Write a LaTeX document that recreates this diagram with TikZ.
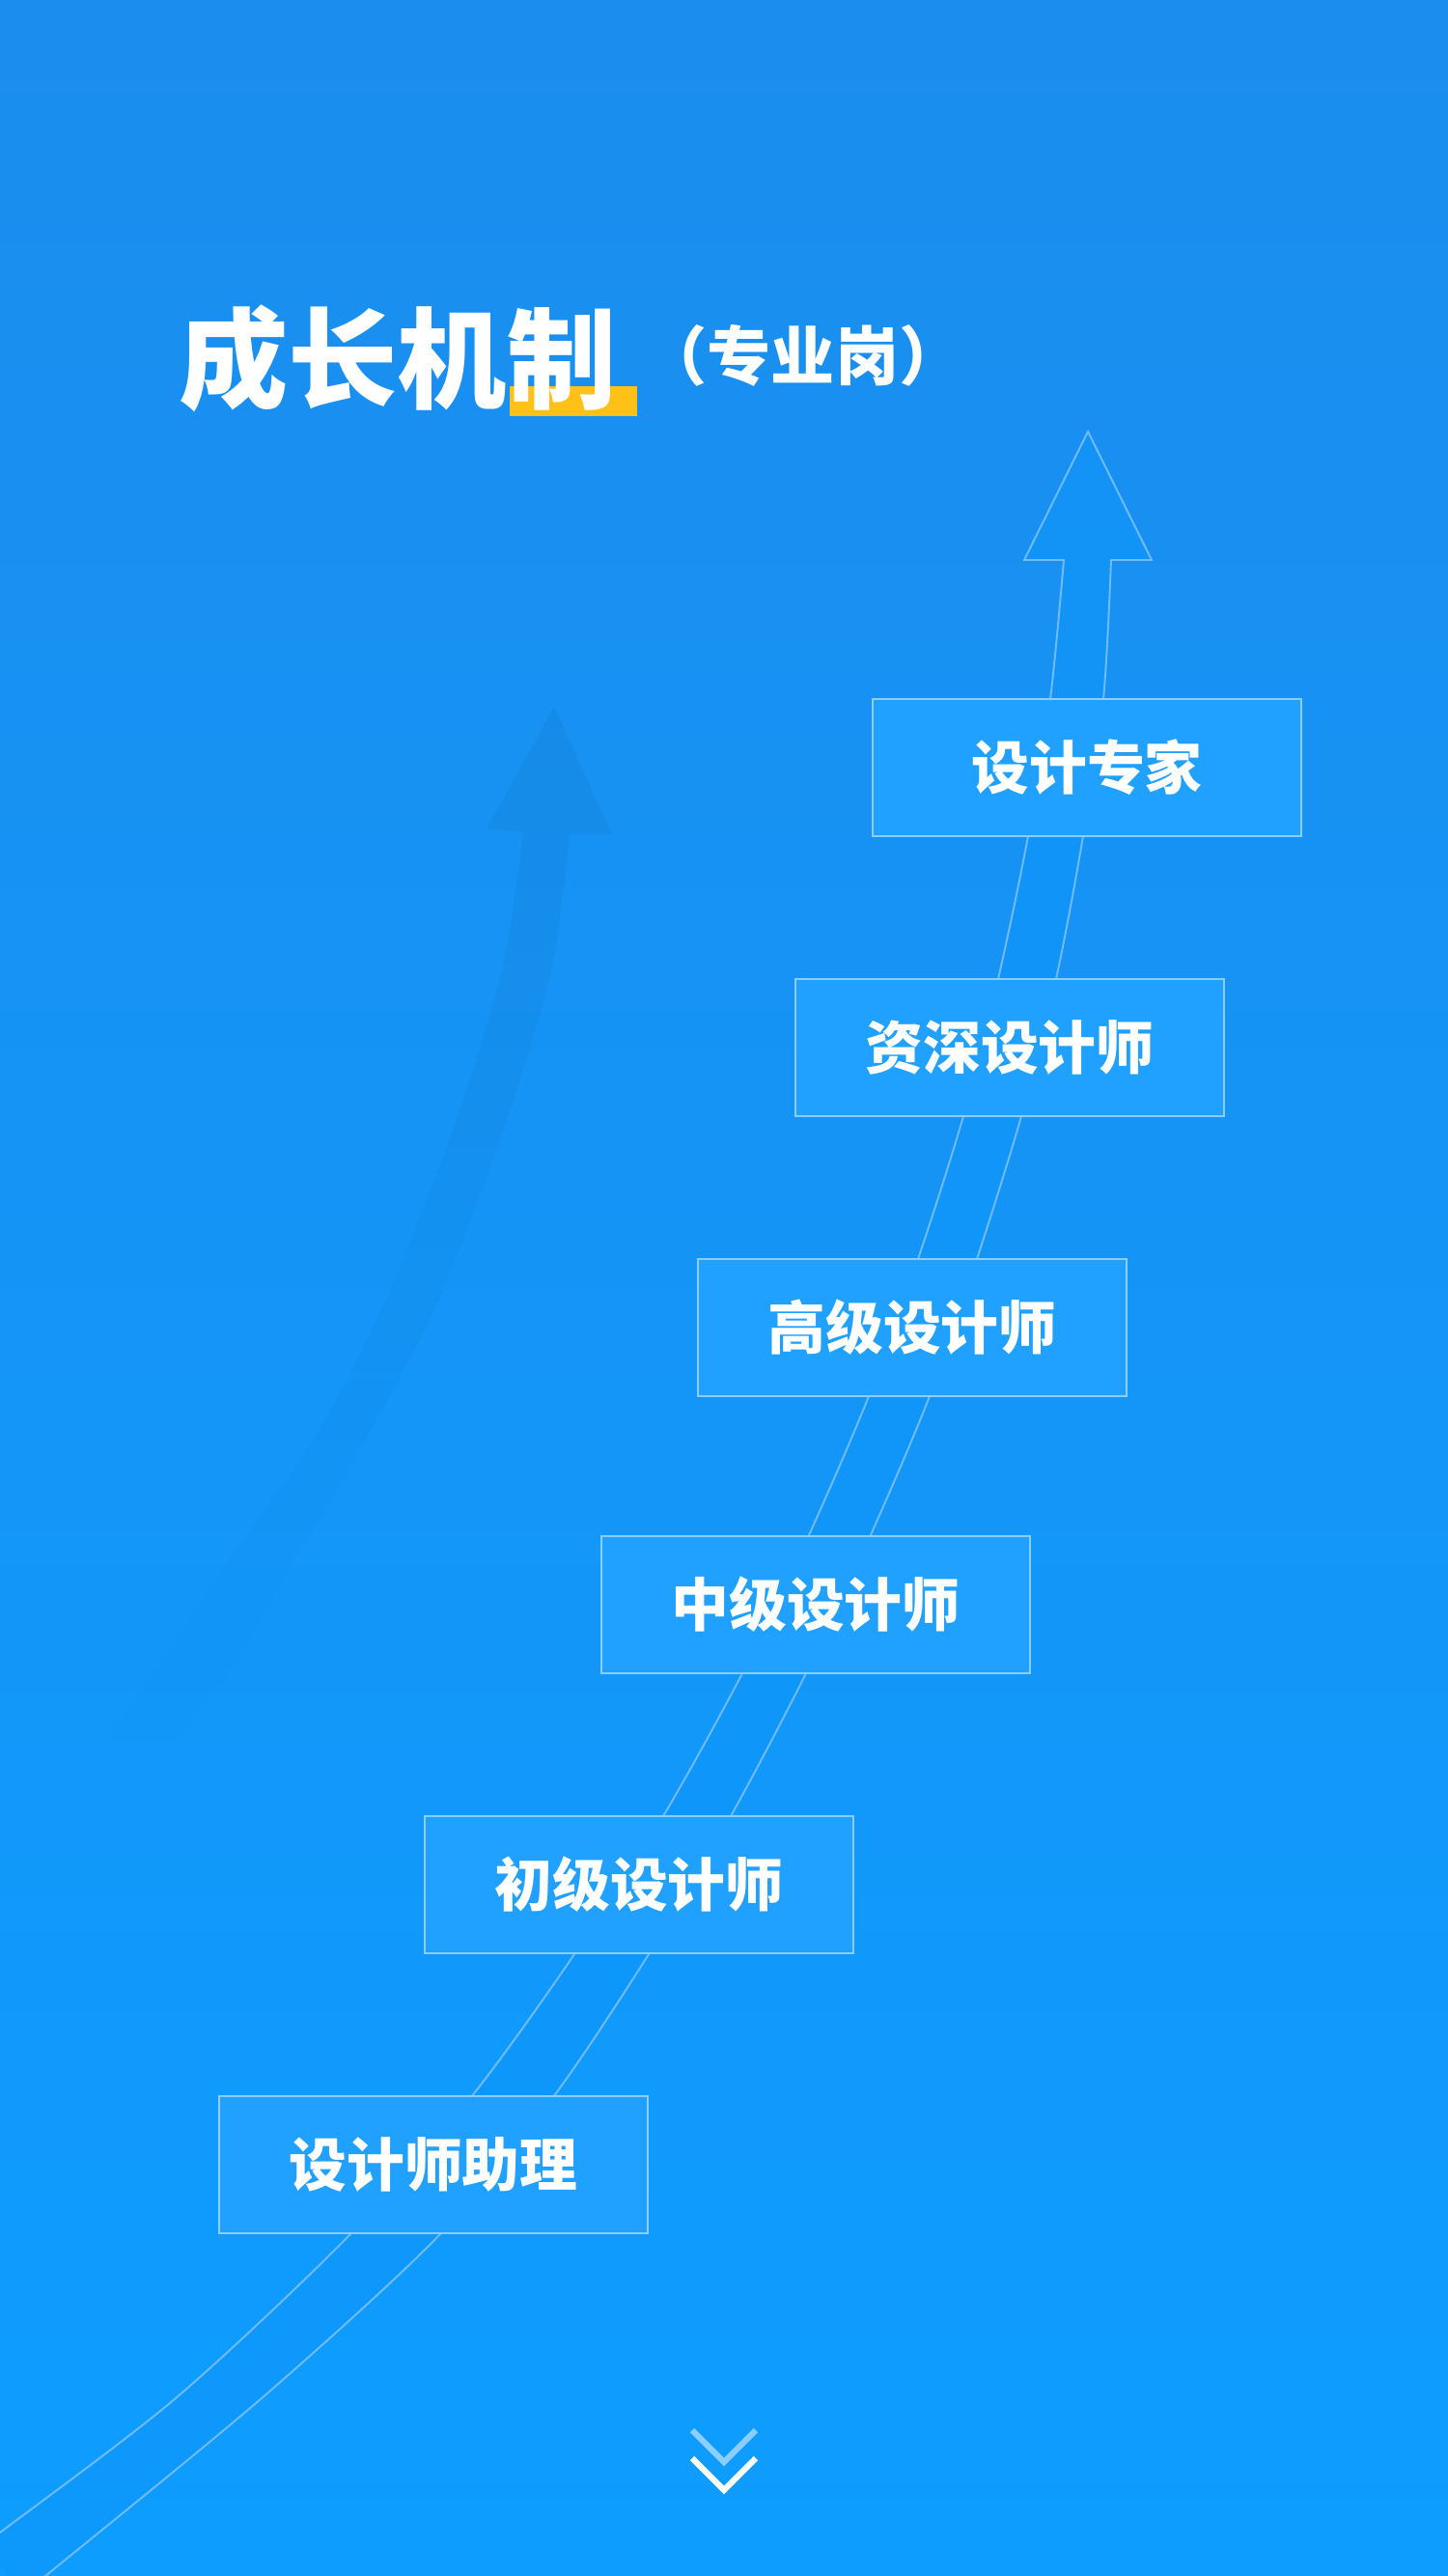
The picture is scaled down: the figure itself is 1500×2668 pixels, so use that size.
\documentclass[tikz,border=0pt]{standalone}
\usepackage{fontspec}
\setmainfont{Noto Sans CJK SC}
\usetikzlibrary{fadings}
\definecolor{bgtop}{RGB}{27,141,238}
\definecolor{bgbot}{RGB}{13,157,255}
\definecolor{boxfill}{RGB}{32,161,255}
\definecolor{boxline}{RGB}{140,204,255}
\definecolor{arrline}{RGB}{112,188,250}
\definecolor{arrfill}{RGB}{14,150,250}
\definecolor{accent}{RGB}{255,193,23}
\definecolor{chevlight}{RGB}{138,207,255}
\tikzfading[name=fadedown, top color=transparent!0, middle color=transparent!35, bottom color=transparent!100]
\tikzset{
  stagebox/.style={draw=boxline, line width=0.6pt, fill=boxfill, minimum width=4.43cm, minimum height=1.42cm, inner sep=0pt, text=white, font=\fontsize{17pt}{20pt}\selectfont\bfseries},
  outline/.style={draw=arrline, line width=0.55pt, fill=arrfill, fill opacity=0.55},
  chev/.style={line width=1.75pt, line cap=butt, line join=miter}
}
\begin{document}
\begin{tikzpicture}[x=0.01cm, y=-0.01cm]
\useasboundingbox (0,0) rectangle (1500,2668);
\shade[top color=bgtop, bottom color=bgbot] (0,0) rectangle (1500,2668);
\begin{scope}
\clip (0,0) rectangle (1500,2668);
% faint background arrow
\fill[black, fill opacity=0.045, path fading=fadedown]
  plot[smooth] coordinates {(95,1815) (159,1732) (226,1631) (325,1490) (398,1350) (473,1159) (521,1000) (542,861)}
  -- (504,858) -- (574,732) -- (634,864)
  -- plot[smooth] coordinates {(590,863) (572,1000) (525,1159) (453,1350) (379,1490) (295,1631) (233,1736) (150,1850)}
  -- cycle;
% outlined growth arrow
\path[outline]
  plot[smooth] coordinates {(-20,2638) (0,2623) (183,2483) (362,2315) (488,2172) (595,2024) (687,1881) (769,1733) (837,1592) (900,1446) (951,1304) (998,1156) (1034,1014) (1065,866) (1088,724) (1102,580)}
  -- (1061,580) -- (1127,447) -- (1193,580) -- (1151,580)
  -- plot[smooth] coordinates {(1151,580) (1143,724) (1122,866) (1094,1014) (1058,1156) (1012,1304) (963,1446) (901,1592) (835,1733) (757,1881) (672,2024) (573,2172) (455,2315) (272,2483) (47,2668) (25,2686)};
\end{scope}
% title
\fill[accent] (528,400) rectangle (660,431);
\node[inner sep=0pt, text=white, font=\fontsize{32.2pt}{36pt}\selectfont\bfseries] (title) at (412,371) {成长机制};
\node[inner sep=0pt, text=white, font=\fontsize{18.8pt}{22pt}\selectfont\bfseries] (subtitle) at (832,368) {（专业岗）};
% stages
\node[stagebox] (s6) at (1126,795) {设计专家};
\node[stagebox] (s5) at (1046,1085) {资深设计师};
\node[stagebox] (s4) at (945,1375) {高级设计师};
\node[stagebox] (s3) at (845,1662) {中级设计师};
\node[stagebox] (s2) at (662,1952) {初级设计师};
\node[stagebox] (s1) at (449,2242) {设计师助理};
% scroll chevrons
\coordinate (c1a) at (717,2517); \coordinate (c1b) at (750,2550); \coordinate (c1c) at (783,2517);
\coordinate (c2a) at (717,2546); \coordinate (c2b) at (750,2579); \coordinate (c2c) at (783,2546);
\draw[chev, chevlight] (c1a) -- (c1b) -- (c1c);
\draw[chev, white] (c2a) -- (c2b) -- (c2c);
\end{tikzpicture}
\end{document}
